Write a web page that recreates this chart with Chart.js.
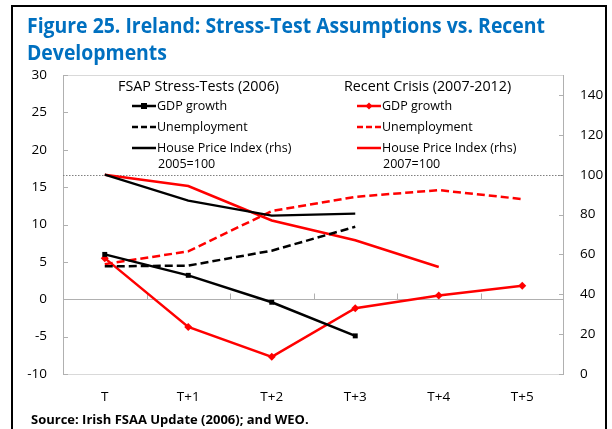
<!DOCTYPE html>
<html>
<head>
<meta charset="utf-8">
<script src="https://cdn.jsdelivr.net/npm/chart.js@4.4.1/dist/chart.umd.min.js"></script>
<style>
  html, body { margin: 0; padding: 0; background: #fff; }
  #wrap { position: relative; width: 612px; height: 429px; overflow: hidden; background: #fff; }
  #frame { position: absolute; left: 11px; top: 5px; width: 592px; height: 440px; border: 2px solid #000; }
  #chart { position: absolute; left: 0; top: 0; }
  .txt { position: absolute; white-space: nowrap; color: #000; font-family: "Open Sans", sans-serif; }
  #title { left: 27px; top: 12px; font-family: "Open Sans", sans-serif; transform-origin: 0 0;
           font-weight: bold; font-size: 20.5px; line-height: 27px; color: #0070C0; }
  .leg { font-size: 12.5px; line-height: 16px; }
  .head { font-size: 14.3px; line-height: 16px; }
  #source { left: 31px; top: 410px; font-weight: bold; font-size: 13px; }
  svg.s { position: absolute; }
</style>
</head>
<body>
<div id="wrap">
  <canvas id="chart" width="612" height="429"></canvas>
  <div id="frame"></div>
  <div id="title" class="txt"><span id="t1">Figure 25. Ireland: Stress-Test Assumptions vs. Recent</span><br>Developments</div>

  <div class="txt head" style="left:118px; top:78px;">FSAP Stress-Tests (2006)</div>
  <div class="txt head" style="left:344px; top:78px;">Recent Crisis (2007-2012)</div>

  <svg class="s" style="left:131px; top:100px;" width="26" height="12">
    <line x1="1" y1="6" x2="25" y2="6" stroke="#000" stroke-width="2.5"/>
    <rect x="10" y="3" width="6" height="6" fill="#000"/>
  </svg>
  <div class="txt leg" style="left:157px; top:98px;">GDP growth</div>
  <svg class="s" style="left:131px; top:121px;" width="26" height="12">
    <line x1="1" y1="6" x2="25" y2="6" stroke="#000" stroke-width="2.5" stroke-dasharray="6,3"/>
  </svg>
  <div class="txt leg" style="left:157px; top:119px;">Unemployment</div>
  <svg class="s" style="left:131px; top:142px;" width="26" height="12">
    <line x1="1" y1="6" x2="25" y2="6" stroke="#000" stroke-width="2.5"/>
  </svg>
  <div class="txt leg" style="left:157px; top:140px;">House Price Index (rhs)</div>
  <div class="txt leg" style="left:158px; top:156px;">2005=100</div>

  <svg class="s" style="left:356px; top:100px;" width="26" height="12">
    <line x1="1" y1="6" x2="25" y2="6" stroke="#f00" stroke-width="2.5"/>
    <polygon points="13,2.5 16.5,6 13,9.5 9.5,6" fill="#f00"/>
  </svg>
  <div class="txt leg" style="left:382px; top:98px;">GDP growth</div>
  <svg class="s" style="left:356px; top:121px;" width="26" height="12">
    <line x1="1" y1="6" x2="25" y2="6" stroke="#f00" stroke-width="2.5" stroke-dasharray="6,3"/>
  </svg>
  <div class="txt leg" style="left:382px; top:119px;">Unemployment</div>
  <svg class="s" style="left:356px; top:142px;" width="26" height="12">
    <line x1="1" y1="6" x2="25" y2="6" stroke="#f00" stroke-width="2.5"/>
  </svg>
  <div class="txt leg" style="left:382px; top:140px;">House Price Index (rhs)</div>
  <div class="txt leg" style="left:383px; top:156px;">2007=100</div>

  <div id="source" class="txt">Source: Irish FSAA Update (2006); and WEO.</div>
</div>
<script>
// データ
const categories = ['T', 'T+1', 'T+2', 'T+3', 'T+4', 'T+5'];

// FSAP stress-tests (2006)
const fsapGdp = [6.0, 3.2, -0.4, -4.9, null, null];
const fsapUnemp = [4.4, 4.5, 6.5, 9.7, null, null];
const fsapHouse = [100, 87, 79.5, 80.5, null, null];

// Recent crisis (2007-2012)
const crisisGdp = [5.5, -3.7, -7.7, -1.2, 0.5, 1.8];
const crisisUnemp = [4.7, 6.4, 11.8, 13.7, 14.6, 13.4];
const crisisHouse = [100, 94.3, 77, 67.1, 53.7, null];

// 基準線 (rhs)
const houseBase = 100;

const leftTicks = { min: -10, max: 30, step: 5 };
const rightTicks = { min: 0, max: 150, step: 20, last: 140 };

// タイトル幅を元の図に合わせる (横方向だけ縮める)
const titleWidth = 518;
const t1 = document.getElementById('t1');
const w = t1.getBoundingClientRect().width;
if (w > titleWidth) {
    document.getElementById('title').style.transform = `scaleX(${titleWidth / w})`;
}

// 枠・ゼロ線・目盛りを描くプラグイン
const framePlugin = {
    id: 'frame',
    beforeDatasetsDraw(chart) {
        const { ctx, chartArea: { left, right, top, bottom }, scales: { x, y, y1 } } = chart;

        ctx.save();
        ctx.lineWidth = 1;

        // 上下の枠
        ctx.strokeStyle = '#d9d9d9';
        ctx.beginPath();
        ctx.moveTo(left, top + 0.5);
        ctx.lineTo(right, top + 0.5);
        ctx.moveTo(left, bottom + 0.5);
        ctx.lineTo(right, bottom + 0.5);
        ctx.stroke();

        // 左右の軸線
        ctx.strokeStyle = '#b0b0b0';
        ctx.beginPath();
        ctx.moveTo(left + 0.5, top);
        ctx.lineTo(left + 0.5, bottom + 1);
        ctx.moveTo(right - 0.5, top);
        ctx.lineTo(right - 0.5, bottom + 1);
        ctx.stroke();

        // 左軸の目盛り
        ctx.beginPath();
        y.ticks.forEach(t => {
            const yp = Math.round(y.getPixelForValue(t.value)) + 0.5;
            ctx.moveTo(left, yp);
            ctx.lineTo(left + 5, yp);
        });
        // 右軸の目盛り
        y1.ticks.forEach(t => {
            const yp = Math.round(y1.getPixelForValue(t.value)) + 0.5;
            ctx.moveTo(right - 5, yp);
            ctx.lineTo(right, yp);
        });
        ctx.stroke();

        // ゼロ線とカテゴリ境界の目盛り
        const y0 = Math.round(y.getPixelForValue(0)) + 0.5;
        ctx.beginPath();
        ctx.moveTo(left, y0);
        ctx.lineTo(right, y0);
        for (let i = 1; i < categories.length; i++) {
            const xp = Math.round((x.getPixelForValue(i - 1) + x.getPixelForValue(i)) / 2) + 0.5;
            ctx.moveTo(xp, y0);
            ctx.lineTo(xp, y0 - 6);
        }
        ctx.stroke();

        // 100 の点線
        const yb = Math.round(y1.getPixelForValue(houseBase)) + 0.5;
        ctx.strokeStyle = '#808080';
        ctx.setLineDash([1.5, 1.5]);
        ctx.beginPath();
        ctx.moveTo(left, yb);
        ctx.lineTo(right, yb);
        ctx.stroke();

        ctx.restore();
    }
};

const tickFont = { family: '"Open Sans", sans-serif', size: 13.5 };

new Chart(document.getElementById('chart').getContext('2d'), {
    type: 'line',
    data: {
        labels: categories,
        datasets: [
            {
                label: 'FSAP GDP growth', data: fsapGdp, yAxisID: 'y',
                borderColor: '#000', backgroundColor: '#000', borderWidth: 2.5,
                pointStyle: 'rect', pointRadius: 3.5, pointBorderWidth: 0
            },
            {
                label: 'FSAP Unemployment', data: fsapUnemp, yAxisID: 'y',
                borderColor: '#000', borderWidth: 2.5, borderDash: [8, 4], pointRadius: 0
            },
            {
                label: 'FSAP House Price Index', data: fsapHouse, yAxisID: 'y1',
                borderColor: '#000', borderWidth: 2.2, pointRadius: 0
            },
            {
                label: 'Crisis GDP growth', data: crisisGdp, yAxisID: 'y',
                borderColor: '#ff0000', backgroundColor: '#ff0000', borderWidth: 2.5,
                pointStyle: 'rectRot', pointRadius: 4, pointBorderWidth: 0
            },
            {
                label: 'Crisis Unemployment', data: crisisUnemp, yAxisID: 'y',
                borderColor: '#ff0000', borderWidth: 2.5, borderDash: [8, 4], pointRadius: 0
            },
            {
                label: 'Crisis House Price Index', data: crisisHouse, yAxisID: 'y1',
                borderColor: '#ff0000', borderWidth: 2.5, pointRadius: 0
            }
        ]
    },
    plugins: [framePlugin],
    options: {
        responsive: false,
        animation: false,
        devicePixelRatio: 1,
        layout: { padding: { top: 75, left: 0, right: 0, bottom: 0 } },
        plugins: {
            legend: { display: false },
            tooltip: { enabled: false }
        },
        elements: { line: { tension: 0 } },
        scales: {
            x: {
                offset: true,
                grid: { display: false, drawTicks: false },
                border: { display: false },
                ticks: { color: '#000', font: tickFont, padding: 15, maxRotation: 0 },
                afterFit: s => { s.height = 55; }
            },
            y: {
                position: 'left',
                min: leftTicks.min, max: leftTicks.max,
                grid: { display: false, drawTicks: false },
                border: { display: false },
                ticks: { stepSize: leftTicks.step, color: '#000', font: tickFont, padding: 16 },
                afterFit: s => { s.width = 63; }
            },
            y1: {
                position: 'right',
                min: rightTicks.min, max: rightTicks.max,
                grid: { display: false, drawTicks: false },
                border: { display: false },
                ticks: { stepSize: rightTicks.step, color: '#000', font: tickFont, padding: 16 },
                afterBuildTicks: s => { s.ticks = s.ticks.filter(t => t.value <= rightTicks.last); },
                afterFit: s => { s.width = 48; }
            }
        }
    }
});
</script>
</body>
</html>
